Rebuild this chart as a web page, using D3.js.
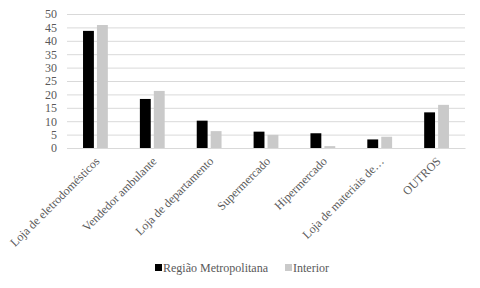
<!DOCTYPE html>
<html>
<head>
<meta charset="utf-8">
<script src="https://cdn.jsdelivr.net/npm/d3@7"></script>
<style>
  body { margin: 0; background: #fff; }
  svg text { font-family: "Times New Roman", "Liberation Serif", "DejaVu Serif", serif !important; fill: #595959; }
</style>
</head>
<body>
<div id="chart"></div>
<script>
// Data
const categories = ["Loja de eletrodomésticos", "Vendedor ambulante", "Loja de departamento",
    "Supermercado", "Hipermercado", "Loja de materiais de…", "OUTROS"];
const seriesNames = ["Região Metropolitana", "Interior"];
const metro = [43.7, 18.3, 10.2, 6.1, 5.5, 3.2, 13.3];
const interior = [45.9, 21.3, 6.3, 4.9, 0.7, 4.2, 16.1];
const yTicks = [0, 5, 10, 15, 20, 25, 30, 35, 40, 45, 50];
const colors = ["#000000", "#cacaca"];
const serif = "'Times New Roman', 'Liberation Serif', serif";

const width = 480, height = 288,
    margin = ({ top: 14, right: 15, bottom: 140, left: 67 });

const svg = d3.select("#chart")
    .append("svg")
    .attr("width", width)
    .attr("height", height)
    .attr("font-family", serif);

let x = d3.scaleBand()
    .domain(categories)
    .range([margin.left, width - margin.right]);

let x1 = d3.scaleBand()
    .domain(seriesNames)
    .range([0, x.bandwidth()])
    .paddingInner(0.22)
    .paddingOuter(1.15);

let y = d3.scaleLinear()
    .domain([0, 50])
    .range([height - margin.bottom, margin.top]);

// gridlines + y labels
svg.append("g")
    .attr("transform", `translate(${margin.left},0)`)
    .call(d3.axisLeft(y).tickValues(yTicks).tickSize(-(width - margin.left - margin.right)).tickPadding(10))
    .attr("font-family", serif)
    .call(g => g.select(".domain").remove())
    .call(g => g.selectAll("line").attr("stroke", "#d9d9d9"))
    .call(g => g.selectAll("text").attr("font-size", 12).attr("fill", "#595959"));

// bars
const rows = categories.map((c, i) => ({ cat: c, vals: [metro[i], interior[i]] }));
svg.append("g").selectAll("g")
    .data(rows)
    .join("g")
    .attr("transform", d => `translate(${x(d.cat)},0)`)
    .selectAll("rect")
    .data(d => d.vals.map((v, j) => ({ name: seriesNames[j], v, j })))
    .join("rect")
    .attr("x", d => x1(d.name))
    .attr("width", x1.bandwidth())
    .attr("y", d => y(d.v))
    .attr("height", d => y(0) - y(d.v))
    .attr("fill", d => colors[d.j]);

// x axis labels
svg.append("g")
    .attr("transform", `translate(0,${height - margin.bottom})`)
    .call(d3.axisBottom(x).tickSize(0).tickPadding(0))
    .attr("font-family", serif)
    .call(g => g.select(".domain").attr("stroke", "#d9d9d9"))
    .call(g => g.selectAll("text")
        .attr("font-size", 12)
        .attr("fill", "#595959")
        .attr("text-anchor", "end")
        .attr("dy", 0)
        .attr("transform", "translate(5,14) rotate(-45)"));

// legend
const legend = svg.append("g").attr("transform", `translate(155,272)`);
const offs = [0, 130];
seriesNames.forEach((n, i) => {
    legend.append("rect")
        .attr("x", offs[i])
        .attr("y", -8)
        .attr("width", 7)
        .attr("height", 7)
        .attr("fill", colors[i]);
    legend.append("text")
        .attr("x", offs[i] + 8)
        .attr("y", 0)
        .attr("font-size", 12)
        .text(n);
});
</script>
</body>
</html>
